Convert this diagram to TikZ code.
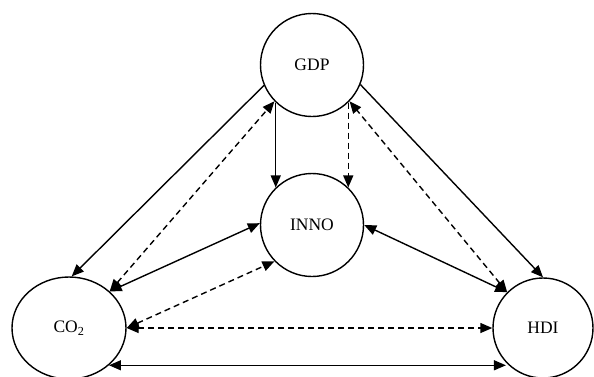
\documentclass[tikz,border=0pt]{standalone}
\usepackage{fontspec}
\setmainfont{Liberation Serif}
\usetikzlibrary{arrows.meta,shapes.geometric}

\begin{document}
\begin{tikzpicture}[x=1pt,y=-1pt,
        line width=1.4pt,>={Triangle[length=12pt,width=10pt]},
        var/.style={draw,circle,minimum size=103pt,inner sep=0pt,font=\fontsize{17.5}{19}\selectfont},
        dsh/.style={dash pattern=on 6pt off 4pt}]

    \useasboundingbox (0,0) rectangle (594,376);

    \node[var] (gdp) at (312,65) {GDP};
    \node[var] (inno) at (312,225) {INNO};
    \node[var,ellipse,minimum width=114pt,minimum height=102pt] (co2) at (69,328) {CO\textsubscript{2}};
    \node[var,minimum size=100pt] (hdi) at (543,328) {HDI};

    \draw[->] (gdp.203) -- (co2.87);
    \draw[->] (gdp.-22) -- (hdi.north);
    \draw[->] (gdp.226) -- (inno.134);
    \draw[->,dsh] (gdp.314) -- (inno.46);

    \draw[<->,dsh] (co2.42) -- (gdp.224);
    \draw[<->,dsh] (hdi.135) -- (gdp.316);
    \draw[<->] (co2.42) -- (inno.178);
    \draw[<->] (inno.0) -- (hdi.135);
    \draw[<->,dsh] (co2.east) -- (inno.224);
    \draw[<->,dsh] (co2.east) -- (hdi.west);
    \draw[<->] (co2.-43) -- (co2.-43 -| hdi.-137);
\end{tikzpicture}
\end{document}
